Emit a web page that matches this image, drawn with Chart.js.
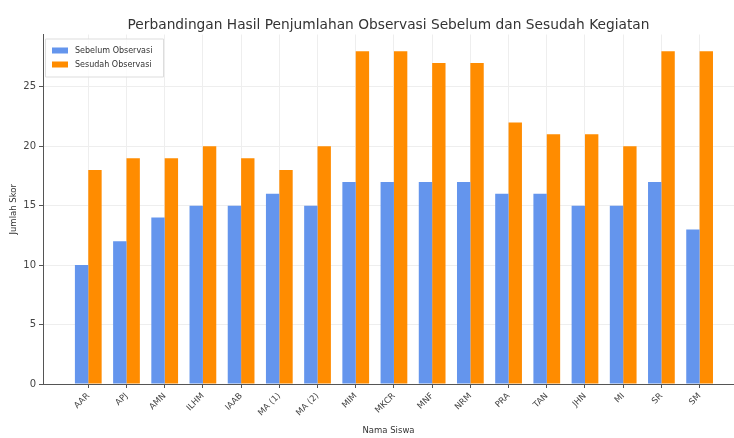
<!DOCTYPE html>
<html>
<head>
<meta charset="utf-8">
<script src="https://cdn.jsdelivr.net/npm/chart.js@4"></script>
<style>
  html, body { margin: 0; padding: 0; background: #fff; }
  #wrap { width: 734px; height: 438px; }
</style>
</head>
<body>
<div id="wrap"><canvas id="myChart"></canvas></div>
<script>
const names = ['AAR', 'APJ', 'AMN', 'ILHM', 'IAAB', 'MA (1)', 'MA (2)', 'MIM', 'MKCR', 'MNF', 'NRM', 'PRA', 'TAN', 'JHN', 'MI', 'SR', 'SM'];
const sebelum = [10, 12, 14, 15, 15, 16, 15, 17, 17, 17, 17, 16, 16, 15, 15, 17, 13];
const sesudah = [18, 19, 19, 20, 19, 18, 20, 28, 28, 27, 27, 22, 21, 21, 20, 28, 28];
const yTicks = [0, 5, 10, 15, 20, 25];
const seriesNames = ['Sebelum Observasi', 'Sesudah Observasi'];
const seriesColors = ['#6495ED', '#FF8C00'];

const FONT = 'DejaVu Sans';

// legend drawn inside the plot, top-left, like matplotlib
const boxLegend = {
    id: 'boxLegend',
    afterDraw(chart){
        const ctx = chart.ctx;
        const a = chart.chartArea;
        const x = a.left + 2, y = a.top + 4, w = 118, h = 38;
        ctx.save();
        ctx.fillStyle = 'rgba(255,255,255,0.8)';
        ctx.strokeStyle = '#dddddd';
        ctx.lineWidth = 1;
        ctx.beginPath();
        ctx.rect(x + 0.5, y + 0.5, w, h);
        ctx.fill();
        ctx.stroke();
        ctx.font = '8px "' + FONT + '"';
        ctx.textBaseline = 'middle';
        seriesNames.forEach((n, i) => {
            const cy = y + 12 + i * 14;
            ctx.fillStyle = seriesColors[i];
            ctx.fillRect(x + 7, cy - 3, 16, 6);
            ctx.fillStyle = '#333';
            ctx.fillText(n, x + 30, cy);
        });
        ctx.restore();
    }
};

function createChart(){
    const ctx = document.getElementById('myChart').getContext('2d');
    new Chart(ctx, {
        type: 'bar',
        data: {
            datasets: [
                {
                    label: seriesNames[0],
                    data: names.map((n, i) => ({x: i, y: sebelum[i]})),
                    backgroundColor: seriesColors[0],
                    borderWidth: 0
                },
                {
                    label: seriesNames[1],
                    data: names.map((n, i) => ({x: i, y: sesudah[i]})),
                    backgroundColor: seriesColors[1],
                    borderWidth: 0
                }
            ]
        },
        options: {
            responsive: true,
            maintainAspectRatio: false,
            animation: false,
            categoryPercentage: 0.7,
            barPercentage: 1.0,
            layout: { padding: { left: 0, right: 0, top: 0, bottom: 0 } },
            plugins: {
                legend: { display: false },
                tooltip: { enabled: false },
                title: {
                    display: true,
                    fullSize: false,
                    text: 'Perbandingan Hasil Penjumlahan Observasi Sebelum dan Sesudah Kegiatan',
                    color: '#333',
                    font: { family: FONT, size: 13.75, weight: 'normal' },
                    padding: { top: 17, bottom: 1 }
                }
            },
            scales: {
                x: {
                    type: 'linear',
                    offset: false,
                    min: -1.185,
                    max: 16.9,
                    afterBuildTicks: (scale) => {
                        scale.ticks = names.map((n, i) => ({value: i}));
                    },
                    afterFit: (scale) => {
                        scale.height = 54;
                        scale.paddingLeft = 0;
                        scale.paddingRight = 0;
                    },
                    ticks: {
                        autoSkip: false,
                        minRotation: 45,
                        maxRotation: 45,
                        color: '#444',
                        padding: 3,
                        font: { family: FONT, size: 8.5 },
                        callback: (v) => names[v]
                    },
                    grid: { offset: false, color: '#eeeeee', tickColor: '#555', tickLength: 4 },
                    border: { color: '#555', width: 1 },
                    title: {
                        display: true,
                        text: 'Nama Siswa',
                        color: '#333',
                        font: { family: FONT, size: 8.5 },
                        padding: { top: 0, bottom: 2 }
                    }
                },
                y: {
                    min: 0,
                    max: 29.4,
                    afterBuildTicks: (scale) => {
                        scale.ticks = yTicks.map(v => ({value: v}));
                    },
                    afterFit: (scale) => { scale.width = 43; },
                    ticks: {
                        color: '#444',
                        padding: 3,
                        font: { family: FONT, size: 10 }
                    },
                    grid: { color: '#eeeeee', tickColor: '#555', tickLength: 4 },
                    border: { color: '#555', width: 1 },
                    title: {
                        display: true,
                        text: 'Jumlah Skor',
                        color: '#333',
                        font: { family: FONT, size: 8.5 },
                        padding: { top: 9, bottom: 0 }
                    }
                }
            }
        },
        plugins: [boxLegend]
    });
}

createChart();
</script>
</body>
</html>
